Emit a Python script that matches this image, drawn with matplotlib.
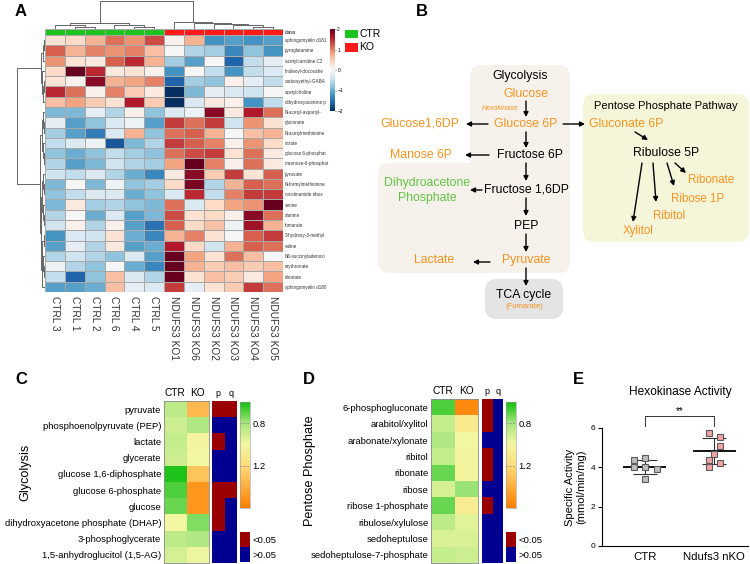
import numpy as np
import matplotlib
matplotlib.use("Agg")
import matplotlib.pyplot as plt
from matplotlib.colors import LinearSegmentedColormap, ListedColormap
from matplotlib.patches import FancyBboxPatch, Rectangle

plt.rcParams['font.family'] = ['Liberation Sans', 'DejaVu Sans']

# ---------------- Panel A data ----------------
sample_labels = ['CTRL 3', 'CTRL 1', 'CTRL 2', 'CTRL 6', 'CTRL 4', 'CTRL 5',
                 'NDUFS3 KO1', 'NDUFS3 KO6', 'NDUFS3 KO2', 'NDUFS3 KO3', 'NDUFS3 KO4', 'NDUFS3 KO5']
sample_class = [0, 0, 0, 0, 0, 0, 1, 1, 1, 1, 1, 1]
metabolites_a = ['sphingomyelin d181', 'pyroglutamine', 'acetylcarnitine C2', 'linoleoyl-docosahe',
                 'carboxyethyl-GABA', 'acetylcholine', 'dihydroxyacetone p', 'N-acetyl-aspartyl-',
                 'gluconate', 'N-acetylmethionine', 'citrate', 'glucose 6-phosphat',
                 'mannose-6-phosphat', 'pyruvate', 'N-formylmethionine', 'nicotinamide ribos',
                 'serine', 'alanine', 'fumarate', '3-hydroxy-3-methyl', 'valine',
                 'N6-succinyladenosi', 'erythronate', 'ribonate', 'sphingomyelin d180']
zscores = np.array([
    [0.3, 0.4, 0.7, 1.1, 0.9, 1.3, 0.1, 0.7, -1.2, -1.1, -1.2, -1.1],
    [1.2, 0.7, 1.0, 0.9, 1.0, 0.6, 0.0, -0.6, -0.7, -1.3, -0.8, -1.2],
    [0.9, 0.3, 0.2, 1.2, 1.5, 0.7, -0.7, -1.1, 0.0, -1.6, -0.5, -0.2],
    [0.4, 2.0, 1.5, 0.2, 0.3, 0.1, -1.2, 0.0, -0.5, -1.2, -0.5, -0.3],
    [0.3, 0.1, 1.8, 0.7, 0.8, 1.0, -1.6, -0.7, -0.8, 0.1, -0.2, -0.5],
    [1.5, 1.1, 0.1, 1.0, 0.5, 0.2, -2.0, -0.9, -0.2, -0.3, -0.4, 0.0],
    [0.6, 0.8, 0.5, 0.3, 1.6, 0.5, -2.0, -0.3, 0.2, 0.1, -1.2, -0.5],
    [-0.9, -0.9, -0.2, -0.6, 0.1, -0.8, -0.3, -0.1, 1.8, 0.2, 1.6, 1.1],
    [-0.2, -1.1, -0.8, -0.3, -0.1, -1.1, 1.4, 1.1, 1.4, -0.4, 0.9, 0.3],
    [-0.7, -1.1, -1.4, -0.3, 0.7, -0.8, 1.1, 1.2, 0.7, 0.0, 0.6, 0.7],
    [-0.5, -0.3, -0.1, -1.7, -0.9, -0.6, 1.4, 1.2, 1.0, 0.1, 0.9, 0.4],
    [-0.8, -1.0, -0.8, -0.5, -0.7, -0.8, 1.1, 1.3, 1.4, 0.3, 1.1, 0.2],
    [-0.6, -1.1, -0.9, -0.4, -0.6, -0.7, 0.8, 2.0, 1.0, 0.1, 1.1, 0.2],
    [-0.4, -0.5, -0.3, -0.6, -1.0, -1.3, 0.2, 1.8, 0.5, 1.4, 0.3, 1.2],
    [-0.9, 0.0, -0.9, -0.1, -0.8, -0.7, 0.4, 1.9, -0.6, 0.7, 1.2, 1.1],
    [-0.8, -0.5, -0.3, -0.3, -1.0, -0.8, -0.3, 1.5, -0.5, 1.0, 1.4, 1.4],
    [-0.9, 0.2, -0.7, -0.6, -0.8, -0.9, 1.1, -0.3, 0.4, 0.8, 0.9, 2.0],
    [-0.6, 0.0, -1.0, -0.3, -1.1, -0.9, 1.3, 0.3, 0.4, 0.1, 1.8, 1.1],
    [-0.4, 0.1, -0.6, 0.1, -1.1, -1.5, 1.2, 0.4, 0.6, -0.1, 1.7, 0.7],
    [-1.2, -0.3, -0.4, 0.3, -1.0, -1.3, 0.7, 1.0, 0.3, 0.0, 1.2, 1.4],
    [-1.1, -0.2, -0.6, 0.2, -1.1, -1.0, 1.6, 0.4, -0.4, 0.7, 1.2, 1.1],
    [-0.6, -0.4, -0.6, -0.8, -0.3, -1.1, 2.0, 0.8, 0.3, 1.1, 0.6, 0.0],
    [-0.1, -0.6, -0.8, 0.0, -1.0, -1.3, 2.0, 0.7, 0.5, 0.6, 0.5, 0.6],
    [-0.5, -1.6, -0.8, 0.6, -0.3, -0.6, 2.0, 0.3, 0.6, 0.5, 0.2, 0.8],
    [-1.1, -1.1, -1.0, 0.6, -0.2, -0.3, 1.4, -0.2, 0.3, 0.5, 1.4, 1.1],
])

# dendrograms: (left, right, height); leaves are indices
col_tree = (((0, (1, 2, 2.0), 4.0), (3, (4, 5, 2.0), 4.0), 6.0),
            (6, (7, (8, (9, (10, 11, 2.0), 4.0), 5.3), 6.0), 6.7), 28.5)
row_top = (((0, 1, 1.5), 2, 2.5), (3, ((4, 5, 1.5), 6, 2.0), 3.0), 4.0)
row_b1 = ((7, (8, 9, 1.5), 2.5), (10, (11, 12, 1.0), 2.0), 3.0)
row_b2 = ((13, (14, 15, 1.2), 2.0), (16, (17, 18, 1.0), 2.2), 3.2)
row_b3 = (((19, 20, 1.5), (21, (22, 23, 1.0), 2.0), 2.8), 24, 3.5)
row_tree = (row_top, (row_b1, (row_b2, row_b3, 4.0), 5.0), 28.0)

# ---------------- Panel C / D data ----------------
glyco_names = ['pyruvate', 'phosphoenolpyruvate (PEP)', 'lactate', 'glycerate',
               'glucose 1,6-diphosphate', 'glucose 6-phosphate', 'glucose',
               'dihydroxyacetone phosphate (DHAP)', '3-phosphoglycerate', '1,5-anhydroglucitol (1,5-AG)']
glyco_ctr = [0.85, 0.90, 0.88, 0.90, 0.62, 0.68, 0.72, 1.00, 0.85, 0.92]
glyco_ko = [1.35, 0.82, 1.02, 1.00, 1.30, 1.50, 1.50, 0.75, 0.83, 0.98]
glyco_p = [1, 0, 1, 0, 0, 1, 1, 1, 0, 0]
glyco_q = [1, 0, 0, 0, 0, 1, 0, 0, 0, 0]

ppp_names = ['6-phosphogluconate', 'arabitol/xylitol', 'arabonate/xylonate', 'ribitol', 'ribonate',
             'ribose', 'ribose 1-phosphate', 'ribulose/xylulose', 'sedoheptulose',
             'sedoheptulose-7-phosphate']
ppp_ctr = [0.68, 0.88, 0.83, 0.87, 0.72, 0.92, 0.72, 0.85, 0.93, 0.88]
ppp_ko = [1.55, 1.10, 1.00, 1.02, 1.02, 0.78, 1.08, 0.95, 0.93, 0.90]
ppp_p = [1, 1, 0, 1, 1, 0, 1, 0, 0, 0]
ppp_q = [0, 0, 0, 0, 0, 0, 0, 0, 0, 0]

# ---------------- Panel E data ----------------
groups_e = ['CTR', 'Ndufs3 nKO']
ctr_act = [4.35, 4.45, 4.02, 4.00, 3.93, 3.42]
ctr_jit = [-0.16, 0.0, -0.16, 0.0, 0.17, 0.0]
ko_act = [5.73, 5.56, 5.09, 4.70, 4.36, 4.24, 4.02]
ko_jit = [-0.08, 0.09, 0.09, 0.0, -0.08, 0.09, -0.08]

ORANGE = '#f7931e'
GREEN = '#62c545'
W, H = 750, 564
fig = plt.figure(figsize=(7.5, 5.64), dpi=100)


def px_axes(x0, y0, x1, y1):
    return fig.add_axes([x0 / W, 1 - y1 / H, (x1 - x0) / W, (y1 - y0) / H])


def draw_tree(ax, node, orient):
    if isinstance(node, int):
        return node + 0.5, 0.0
    left, right, h = node
    p1, h1 = draw_tree(ax, left, orient)
    p2, h2 = draw_tree(ax, right, orient)
    xs, ys = [p1, p1, p2, p2], [h1, h, h, h2]
    if orient == 'top':
        ax.plot(xs, ys, color='#666666', lw=0.7)
    else:
        ax.plot(ys, xs, color='#666666', lw=0.7)
    return (p1 + p2) / 2, h


# overlay for diagram and panel letters
ov = fig.add_axes([0, 0, 1, 1])
ov.set_xlim(0, W)
ov.set_ylim(H, 0)
ov.axis('off')

for letter, (lx, ly) in zip('ABCDE', [(21, 12), (422, 12), (21, 380), (309, 380), (578, 380)]):
    ov.text(lx, ly, letter, fontsize=12, fontweight='bold', ha='center', va='center')

# ---------------- Panel A ----------------
axh = px_axes(45, 35, 283, 292)
axh.pcolormesh(zscores, cmap='RdBu_r', vmin=-2, vmax=2, edgecolors='#a8a8a8', linewidth=0.5)
axh.set_xlim(0, 12)
axh.set_ylim(25, 0)
axh.set_yticks(np.arange(25) + 0.5)
axh.set_yticklabels(metabolites_a, fontsize=3.3, color='#333333')
axh.yaxis.tick_right()
axh.set_xticks(np.arange(12) + 0.5)
axh.set_xticklabels(sample_labels, rotation=-90, fontsize=7.3, color='#333333')
axh.tick_params(length=0, pad=1.5)
axh.tick_params(axis='x', pad=3)
for s in axh.spines.values():
    s.set_visible(False)

axc = px_axes(45, 29, 283, 34.5)
axc.pcolormesh(np.array([sample_class]), cmap=ListedColormap(['#1ec41e', '#ff1a1a']),
               edgecolors='#a8a8a8', linewidth=0.5)
axc.set_xlim(0, 12)
axc.set_xticks([])
axc.set_yticks([])
for s in axc.spines.values():
    s.set_visible(False)
ov.text(285, 32, 'class', fontsize=3.5, va='center', ha='left')

axd = px_axes(45, 0, 283, 29)
draw_tree(axd, col_tree, 'top')
axd.set_xlim(0, 12)
axd.set_ylim(0, 29)
axd.axis('off')

axr = px_axes(14, 35, 45, 292)
draw_tree(axr, row_tree, 'left')
axr.set_xlim(31, 0)
axr.set_ylim(25, 0)
axr.axis('off')

cba = px_axes(330, 29, 334.5, 111)
grad = np.linspace(-2, 2, 256).reshape(-1, 1)
cba.imshow(grad, aspect='auto', cmap='RdBu_r', vmin=-2, vmax=2, extent=[0, 1, -2, 2], origin='lower')
cba.set_ylim(-2, 2)
cba.set_xticks([])
cba.set_yticks([-2, -1, 0, 1, 2])
cba.yaxis.tick_right()
cba.tick_params(length=1, width=0.4, labelsize=3.5, pad=1)
for s in cba.spines.values():
    s.set_visible(False)

ov.add_patch(Rectangle((345, 29.5), 13, 8.5, color='#1ec41e', lw=0))
ov.add_patch(Rectangle((345, 43), 13, 8.5, color='#ff1a1a', lw=0))
ov.text(359, 34, 'CTR', fontsize=7.5, va='center', ha='left')
ov.text(359, 47.5, 'KO', fontsize=7.5, va='center', ha='left')

# ---------------- Panel B ----------------
GLY_BG = '#f6f1ea'
ov.add_patch(FancyBboxPatch((475, 70), 90, 198, boxstyle='round,pad=5,rounding_size=12',
                            fc=GLY_BG, ec='none'))
ov.add_patch(FancyBboxPatch((383, 168), 182, 100, boxstyle='round,pad=5,rounding_size=12',
                            fc=GLY_BG, ec='none'))
ov.add_patch(FancyBboxPatch((588, 99), 156, 138, boxstyle='round,pad=5,rounding_size=12',
                            fc='#f5f5da', ec='none'))
ov.add_patch(FancyBboxPatch((489, 283), 70, 32, boxstyle='round,pad=4,rounding_size=12',
                            fc='#e4e4e4', ec='none'))

node_text = [
    ('Glycolysis', 520, 76, 'black', 8.8),
    ('Glucose', 526, 94, ORANGE, 8.8),
    ('Glucose 6P', 526, 124, ORANGE, 8.8),
    ('Glucose1,6DP', 420, 124, ORANGE, 8.8),
    ('Gluconate 6P', 626, 124, ORANGE, 8.8),
    ('Fructose 6P', 530, 155, 'black', 8.8),
    ('Manose 6P', 421, 155, ORANGE, 8.8),
    ('Fructose 1,6DP', 526, 190, 'black', 8.8),
    ('Dihydroacetone', 427, 183, GREEN, 8.8),
    ('Phosphate', 427, 198, GREEN, 8.8),
    ('PEP', 526, 226, 'black', 8.8),
    ('Pyruvate', 526, 260, ORANGE, 8.8),
    ('Lactate', 434, 260, ORANGE, 8.8),
    ('TCA cycle', 524, 295, 'black', 8.8),
    ('Pentose Phosphate Pathway', 666, 106, 'black', 8.0),
    ('Ribulose 5P', 666, 153, 'black', 8.8),
    ('Ribonate', 711, 180, ORANGE, 8.3),
    ('Ribose 1P', 698, 199, ORANGE, 8.3),
    ('Ribitol', 669, 216, ORANGE, 8.3),
    ('Xylitol', 638, 231, ORANGE, 8.3),
]
for txt, tx, ty, col, fs in node_text:
    ov.text(tx, ty, txt, color=col, fontsize=fs, ha='center', va='center')
ov.text(500, 108, 'Hexokinase', color=ORANGE, fontsize=5, style='italic', ha='center', va='center')
ov.text(524, 307, '(Fumarate)', color=ORANGE, fontsize=5.5, ha='center', va='center')

arrows = [
    ((526, 101), (526, 117)), ((488, 124), (466, 124)), ((563, 124), (585, 124)),
    ((526, 132), (526, 148)), ((489, 155), (465, 155)), ((526, 163), (526, 181)),
    ((482, 190), (470, 190)), ((526, 198), (526, 216)), ((526, 234), (526, 252)),
    ((490, 262), (473, 262)), ((526, 268), (526, 286)), ((635, 132), (648, 140)),
    ((642, 163), (633, 222)), ((653, 163), (656, 202)), ((667, 163), (674, 186)),
    ((675, 163), (686, 173)),
]
for (x0, y0), (x1, y1) in arrows:
    ov.annotate('', xy=(x1, y1), xytext=(x0, y0),
                arrowprops=dict(arrowstyle='-|>', color='black', lw=1.0, mutation_scale=7,
                                shrinkA=0, shrinkB=0))

# ---------------- Panels C and D ----------------
fc_cmap = LinearSegmentedColormap.from_list(
    'fc', [(0, '#10c010'), (0.2, '#a8e67e'), (0.4, '#f4f7a2'), (0.6, '#fedc7c'), (1.0, '#ff7f00')])
sig_cmap = ListedColormap(['#000090', '#9a0000'])


def fc_panel(names, ctr, ko, p, q, hx, pqx, cbx, y0, y1, side_label, side_x):
    ax = px_axes(hx[0], y0, hx[1], y1)
    ax.pcolormesh(np.column_stack([ctr, ko]), cmap=fc_cmap, vmin=0.6, vmax=1.6)
    ax.set_xlim(0, 2)
    ax.set_ylim(10, 0)
    ax.set_yticks(np.arange(10) + 0.5)
    ax.set_yticklabels(names, fontsize=6.8)
    ax.set_xticks([0.5, 1.5])
    ax.set_xticklabels(['CTR', 'KO'], fontsize=7.3)
    ax.xaxis.tick_top()
    ax.tick_params(length=0, pad=2)
    for s in ax.spines.values():
        s.set_color('#8a8a8a')
        s.set_linewidth(0.6)

    axp = px_axes(pqx[0], y0, pqx[1], y1)
    axp.pcolormesh(np.column_stack([p, q]), cmap=sig_cmap, vmin=0, vmax=1)
    axp.set_xlim(0, 2)
    axp.set_ylim(10, 0)
    axp.set_yticks([])
    axp.set_xticks([0.5, 1.5])
    axp.set_xticklabels(['p', 'q'], fontsize=6.5)
    axp.xaxis.tick_top()
    axp.tick_params(length=0, pad=2)
    for s in axp.spines.values():
        s.set_visible(False)

    cax = px_axes(cbx[0], 402, cbx[1], 508)
    g = np.linspace(0.6, 1.6, 256).reshape(-1, 1)
    cax.imshow(g, aspect='auto', cmap=fc_cmap, vmin=0.6, vmax=1.6, extent=[0, 1, 1.6, 0.6])
    cax.set_ylim(1.6, 0.6)
    cax.set_xlim(0, 1)
    for lv in [0.8, 1.2]:
        cax.axhline(lv, ls=(0, (2, 2)), color='#888888', lw=0.6)
    cax.set_xticks([])
    cax.set_yticks([0.8, 1.2])
    cax.set_yticklabels(['0.8', '1.2'])
    cax.yaxis.tick_right()
    cax.tick_params(length=0, labelsize=6.8, pad=2)
    for s in cax.spines.values():
        s.set_color('#9a9a9a')
        s.set_linewidth(0.4)

    lax = px_axes(cbx[0], 532, cbx[1], 562)
    lax.pcolormesh(np.array([[1], [0]]), cmap=sig_cmap, vmin=0, vmax=1)
    lax.set_ylim(2, 0)
    lax.set_xticks([])
    lax.set_yticks([0.5, 1.5])
    lax.set_yticklabels(['<0.05', '>0.05'])
    lax.yaxis.tick_right()
    lax.tick_params(length=0, labelsize=6.8, pad=2)
    for s in lax.spines.values():
        s.set_visible(False)

    ov.text(side_x, (y0 + y1) / 2 - 10, side_label, rotation=90, fontsize=9.1,
            ha='center', va='center')


fc_panel(glyco_names, glyco_ctr, glyco_ko, glyco_p, glyco_q,
         (164, 209), (212, 237), (240, 249.5), 401, 563, 'Glycolysis', 25)
fc_panel(ppp_names, ppp_ctr, ppp_ko, ppp_p, ppp_q,
         (431, 478), (482, 503), (506, 515.5), 399, 563, 'Pentose Phosphate', 310)

# ---------------- Panel E ----------------
axe = px_axes(602, 428, 748, 546)
for i, (vals, jit, fcol) in enumerate([(ctr_act, ctr_jit, '#bdbdbd'), (ko_act, ko_jit, '#f2a3a6')]):
    m = np.mean(vals)
    sd = np.std(vals, ddof=1)
    axe.errorbar(i, m, yerr=sd, fmt='none', ecolor='#333333', elinewidth=0.8, capsize=8.5,
                 capthick=0.8, zorder=2)
    axe.hlines(m, i - 0.31, i + 0.31, color='black', lw=1.3, zorder=2)
    axe.plot(np.array(jit) + i, vals, 's', ms=5, mfc=fcol, mec='#5a5a5a', mew=0.8, zorder=3,
             ls='none')
axe.set_xlim(-0.62, 1.49)
axe.set_ylim(0, 6)
axe.set_yticks([0, 2, 4, 6])
axe.set_xticks([0, 1])
axe.set_xticklabels(groups_e, fontsize=8.2)
axe.tick_params(axis='y', labelsize=6, length=3, width=0.8, pad=2)
axe.tick_params(axis='x', length=0, pad=4)
axe.spines['top'].set_visible(False)
axe.spines['right'].set_visible(False)
axe.spines['left'].set_linewidth(0.8)
axe.spines['bottom'].set_linewidth(0.8)
axe.set_ylabel('Specific Activity\n(mmol/min/mg)', fontsize=8, labelpad=3)
axe.plot([0, 0, 1, 1], [6.1, 6.6, 6.6, 6.1], color='#333333', lw=0.7, clip_on=False)
axe.text(0.5, 6.62, '**', ha='center', va='bottom', fontsize=7)
ov.text(680, 392, 'Hexokinase Activity', fontsize=8.6, ha='center', va='center')

fig.savefig('out.png', dpi=100)
